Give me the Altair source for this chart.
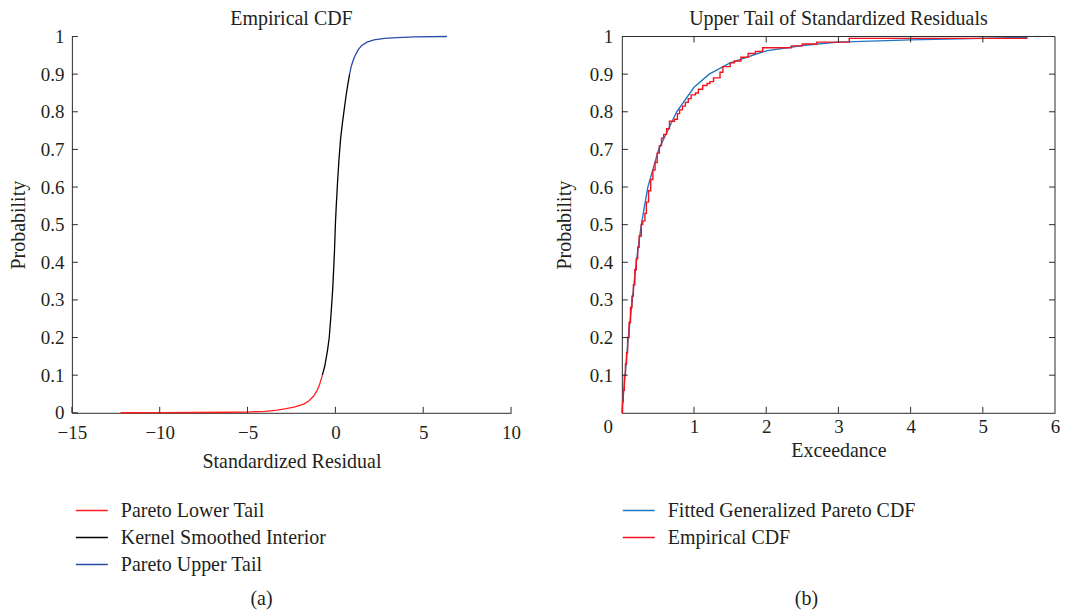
import altair as alt
import pandas as pd

FONT = "Liberation Serif"
TXT = "#231f20"
AX = "#2b2b2b"

# ---------------- Panel (a): Empirical CDF ----------------
left_series = ["Pareto Lower Tail", "Kernel Smoothed Interior", "Pareto Upper Tail"]
left_colors = ["#ff1f1f", "#000000", "#2a4ca8"]

lower_x = [-12.23, -10, -8, -6, -5, -4, -3.3, -2.8, -2.3, -1.8, -1.5, -1.25, -1.05, -0.9, -0.74]
lower_y = [0.0002, 0.0004, 0.0008, 0.0015, 0.002, 0.004, 0.007, 0.011, 0.016, 0.023, 0.032, 0.044, 0.058, 0.075, 0.10]

interior_x = [-0.74, -0.6, -0.45, -0.35, -0.25, -0.15, -0.05, 0.0, 0.05, 0.12, 0.2, 0.3, 0.4, 0.5, 0.6, 0.7, 0.81]
interior_y = [0.10, 0.125, 0.165, 0.20, 0.26, 0.33, 0.43, 0.50, 0.55, 0.61, 0.67, 0.73, 0.77, 0.805, 0.84, 0.87, 0.90]

upper_x = [0.81, 0.9, 1.0, 1.1, 1.3, 1.5, 1.8, 2.2, 2.8, 3.5, 4.5, 6.35]
upper_y = [0.90, 0.92, 0.935, 0.947, 0.965, 0.976, 0.985, 0.991, 0.995, 0.997, 0.999, 1.0]

left_xticks = [-15, -10, -5, 0, 5, 10]
left_yticks = [0, 0.1, 0.2, 0.3, 0.4, 0.5, 0.6, 0.7, 0.8, 0.9, 1.0]

# ---------------- Panel (b): Upper tail ----------------
right_series = ["Fitted Generalized Pareto CDF", "Empirical CDF"]
right_colors = ["#1f78c1", "#f0121e"]

gp_x = [0.0, 0.045, 0.09, 0.145, 0.2, 0.27, 0.36, 0.51, 0.76, 1.0, 1.21, 1.5, 2.0, 2.5, 3.0, 4.0, 5.0, 5.62]
gp_y = [0.0, 0.1, 0.2, 0.3, 0.4, 0.5, 0.6, 0.7, 0.8, 0.865, 0.9, 0.93, 0.962, 0.976, 0.985, 0.991, 0.995, 0.998]

emp_x = [0.0, 0.01, 0.02, 0.035, 0.05, 0.065, 0.08, 0.1, 0.12, 0.14, 0.16, 0.18, 0.2, 0.22, 0.24,
         0.27, 0.29, 0.32, 0.34, 0.37, 0.40, 0.43, 0.46, 0.49, 0.52, 0.55, 0.58, 0.62, 0.66, 0.73,
         0.77, 0.8, 0.84, 0.88, 0.92, 0.96, 1.02, 1.06, 1.12, 1.18, 1.22, 1.27, 1.36, 1.4, 1.5,
         1.56, 1.65, 1.75, 1.85, 1.95, 2.35, 2.5, 2.7, 3.15, 5.62]
emp_y = [0.0, 0.03, 0.06, 0.1, 0.13, 0.16, 0.2, 0.24, 0.28, 0.31, 0.34, 0.38, 0.41, 0.44, 0.47,
         0.50, 0.51, 0.53, 0.56, 0.59, 0.62, 0.645, 0.665, 0.69, 0.71, 0.73, 0.74, 0.755, 0.775, 0.78,
         0.795, 0.805, 0.815, 0.825, 0.835, 0.845, 0.85, 0.86, 0.87, 0.875, 0.88, 0.89, 0.905, 0.92, 0.93,
         0.935, 0.945, 0.955, 0.96, 0.97, 0.975, 0.98, 0.985, 0.995, 0.995]

right_xticks = [0, 1, 2, 3, 4, 5, 6]
right_yticks = [0.1, 0.2, 0.3, 0.4, 0.5, 0.6, 0.7, 0.8, 0.9, 1.0]
right_inner_x = [1, 2, 3, 4, 5]
right_inner_y = [0.1, 0.2, 0.3, 0.4, 0.5, 0.6, 0.7, 0.8, 0.9]

captions = ["(a)", "(b)"]

# ---------------- Build tables ----------------
rows = []
for name, xs, ys in zip(left_series, [lower_x, interior_x, upper_x], [lower_y, interior_y, upper_y]):
    for i, (x, y) in enumerate(zip(xs, ys)):
        rows.append({"series": name, "x": x, "y": y, "order": i})
dfa = pd.DataFrame(rows)

dfgp = pd.DataFrame({"x": gp_x, "y": gp_y, "series2": right_series[0]})
dfemp = pd.DataFrame({"x": emp_x, "y": emp_y, "series2": right_series[1]})

W1, W2, H = 440, 434, 377
TICK = 6


def legend(x, y):
    return alt.Legend(
        orient="none", legendX=x, legendY=y, title=None,
        symbolType="stroke", symbolSize=1024, symbolStrokeWidth=1.5,
        labelFont=FONT, labelFontSize=20, labelColor=TXT, labelLimit=400,
        labelOffset=12, rowPadding=0, padding=0,
    )


def axis(values, title, lp, tp, **kw):
    return alt.Axis(
        values=values, title=title, format="~g", grid=False, ticks=False,
        domainColor=AX, domainWidth=1, labelOverlap=False, labelFlush=False,
        labelFont=FONT, labelFontSize=19, labelColor=TXT, labelPadding=lp,
        titleFont=FONT, titleFontSize=20, titleFontWeight="normal", titleColor=TXT,
        titlePadding=tp, **kw,
    )


# ---- panel (a) ----
xa = alt.Scale(domain=[-15, 10], nice=False, zero=False)
ya = alt.Scale(domain=[0, 1], nice=False)

lines_a = alt.Chart(dfa).mark_line(strokeWidth=1.3).encode(
    x=alt.X("x:Q", scale=xa, axis=axis(left_xticks, "Standardized Residual", 11, 9)),
    y=alt.Y("y:Q", scale=ya, axis=axis(left_yticks, "Probability", 8, 12)),
    color=alt.Color("series:N", scale=alt.Scale(domain=left_series, range=left_colors),
                    legend=legend(3, 458)),
    order="order:Q",
)

ticks_ax = alt.Chart(pd.DataFrame({"x": left_xticks})).mark_rule(color=AX, strokeWidth=1).encode(
    x=alt.X("x:Q", scale=xa, axis=None), y=alt.value(H), y2=alt.value(H - TICK))
ticks_ay = alt.Chart(pd.DataFrame({"y": left_yticks})).mark_rule(color=AX, strokeWidth=1).encode(
    y=alt.Y("y:Q", scale=ya, axis=None), x=alt.value(0), x2=alt.value(TICK))
cap_a = alt.Chart(pd.DataFrame({"c": [captions[0]]})).mark_text(
    font=FONT, fontSize=20, color=TXT, baseline="middle", align="center").encode(
    text="c:N", x=alt.value(190), y=alt.value(564))

panel_a = alt.layer(lines_a, ticks_ax, ticks_ay, cap_a).resolve_axis(
    x="independent", y="independent").properties(
    width=W1, height=H,
    title=alt.TitleParams("Empirical CDF", font=FONT, fontSize=20, fontWeight="normal",
                          color=TXT, offset=-1),
)

# ---- panel (b) ----
xb = alt.Scale(domain=[0, 6], nice=False)
yb = alt.Scale(domain=[0, 1], nice=False)
color_b = alt.Color("series2:N", scale=alt.Scale(domain=right_series, range=right_colors),
                    legend=legend(0, 458))

xaxis_b = axis(right_xticks, "Exceedance", 5, 4,
               labelOffset={"condition": {"test": "datum.value === 0", "value": -14},
                            "value": 0})
yaxis_b = axis(right_yticks, "Probability", 9, 15)

gp_line = alt.Chart(dfgp).mark_line(strokeWidth=1.4).encode(
    x=alt.X("x:Q", scale=xb, axis=xaxis_b),
    y=alt.Y("y:Q", scale=yb, axis=yaxis_b),
    color=color_b,
)
emp_line = alt.Chart(dfemp).mark_line(strokeWidth=1.4, interpolate="step-after").encode(
    x=alt.X("x:Q", scale=xb), y=alt.Y("y:Q", scale=yb), color=color_b,
)

tb_bottom = alt.Chart(pd.DataFrame({"x": right_inner_x})).mark_rule(color=AX).encode(
    x=alt.X("x:Q", scale=xb), y=alt.value(H), y2=alt.value(H - TICK))
tb_top = alt.Chart(pd.DataFrame({"x": right_inner_x})).mark_rule(color=AX).encode(
    x=alt.X("x:Q", scale=xb), y=alt.value(0), y2=alt.value(TICK))
tb_left = alt.Chart(pd.DataFrame({"y": right_inner_y})).mark_rule(color=AX).encode(
    y=alt.Y("y:Q", scale=yb), x=alt.value(0), x2=alt.value(TICK))
tb_right = alt.Chart(pd.DataFrame({"y": right_inner_y})).mark_rule(color=AX).encode(
    y=alt.Y("y:Q", scale=yb), x=alt.value(W2), x2=alt.value(W2 - TICK))
frame_top = alt.Chart(pd.DataFrame({"c": [0]})).mark_rule(color=AX, strokeWidth=1).encode(
    x=alt.value(0), x2=alt.value(W2), y=alt.value(0))
frame_right = alt.Chart(pd.DataFrame({"c": [0]})).mark_rule(color=AX, strokeWidth=1).encode(
    x=alt.value(W2), y=alt.value(0), y2=alt.value(H))
cap_b = alt.Chart(pd.DataFrame({"c": [captions[1]]})).mark_text(
    font=FONT, fontSize=20, color=TXT, baseline="middle", align="center").encode(
    text="c:N", x=alt.value(185), y=alt.value(564))

panel_b = alt.layer(gp_line, emp_line, tb_bottom, tb_top, tb_left, tb_right,
                    frame_top, frame_right, cap_b).properties(
    width=W2, height=H,
    title=alt.TitleParams("Upper Tail of Standardized Residuals", font=FONT, fontSize=20,
                          fontWeight="normal", color=TXT, offset=-1),
)

chart = alt.hconcat(panel_a, panel_b, spacing=33).resolve_scale(
    color="independent").resolve_legend(color="independent").properties(
    padding=0, background="white"
).configure_view(stroke=None).configure_axis(labelOverlap=False, labelFlush=False)

chart.save("out.html", embed_options={"renderer": "svg", "actions": False})
